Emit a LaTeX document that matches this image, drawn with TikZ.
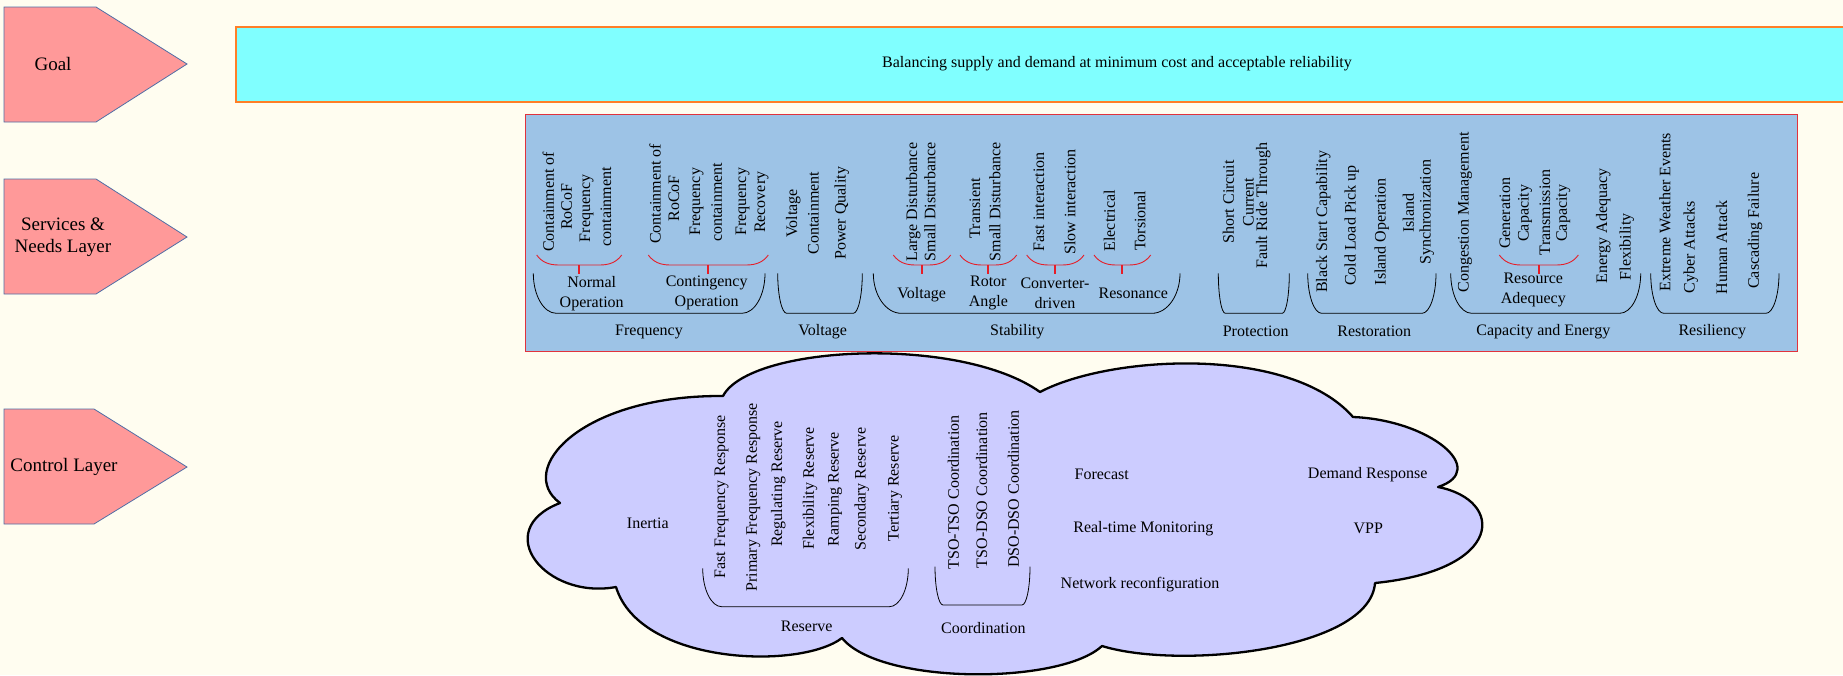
\documentclass[tikz,border=0pt]{standalone}
\usepackage{fontspec}
\setmainfont{Liberation Serif}
\definecolor{bgcream}{RGB}{255,253,240}
\definecolor{layerpink}{RGB}{255,153,153}
\definecolor{layerline}{RGB}{80,110,165}
\definecolor{goalcyan}{RGB}{128,255,255}
\definecolor{goalline}{RGB}{255,127,39}
\definecolor{servfill}{RGB}{157,195,230}
\definecolor{servline}{RGB}{225,50,60}
\definecolor{bracered}{RGB}{230,30,40}
\definecolor{cloudfill}{RGB}{204,204,255}
\tikzset{
  lbl/.style={font=\fontsize{16}{20}\selectfont, inner sep=0pt, align=center},
  vt/.style={lbl, rotate=90},
  layer/.style={draw=layerline, fill=layerpink, line width=0.8pt},
  layertxt/.style={font=\fontsize{19}{22.5}\selectfont, inner sep=0pt, align=center},
  brk/.style={draw=black, line width=0.8pt},
  rbr/.style={draw=bracered, line width=0.9pt},
  rtick/.style={draw=bracered, line width=1.8pt},
}
% bracket: left, right, top, bottom, horizontal curve width
\newcommand{\SvBracket}[5]{\draw[brk] (#1,#3) .. controls (#1,{#3+0.55*(#4-#3)}) and ({#1+0.45*#5},#4) .. ({#1+#5},#4) -- ({#2-#5},#4) .. controls ({#2-0.45*#5},#4) and (#2,{#3+0.55*(#4-#3)}) .. (#2,#3);}
\newcommand{\SvBrace}[2]{\draw[rbr] (#1,255) .. controls ({#1+5},262) and ({#1+12},265) .. ({#1+22},265) -- ({#2-22},265) .. controls ({#2-12},265) and ({#2-5},262) .. (#2,255);
  \draw[rtick] ({(#1+#2)/2},265) -- ({(#1+#2)/2},274);}
\begin{document}
\begin{tikzpicture}[x=1pt,y=-1pt]
\path[use as bounding box, fill=bgcream] (0,0) rectangle (1843,675);
\begin{scope}
\clip (0,0) rectangle (1843,675);
% layer arrows
\draw[layer] (4,7) -- (96,7) -- (187,64) -- (96,122) -- (4,122) -- cycle;
\node[layertxt] (goal) at (53,64) {Goal};
\draw[layer] (4,179) -- (96,179) -- (187,237) -- (96,294) -- (4,294) -- cycle;
\node[layertxt] (serv) at (63,237) {Services \&\\Needs Layer};
\draw[layer] (4,409) -- (94,409) -- (187,467) -- (94,524) -- (4,524) -- cycle;
\node[layertxt] (ctrl) at (64,467) {Control Layer};
% goal box
\draw[draw=goalline, fill=goalcyan, line width=1.4pt] (236,27) rectangle (1998,102);
\node[lbl] (goaltxt) at (1117,64) {Balancing supply and demand at minimum cost and acceptable reliability};
% services box
\draw[draw=servline, fill=servfill, line width=1pt] (525,114) rectangle (1797,351);
% Frequency
\node[vt] (n1a) at (548.3,201.7) {Containment of};
\node[vt] (n1b) at (566.7,206.7) {RoCoF};
\node[vt] (n1c) at (586.7,208.3) {Frequency};
\node[vt] (n1d) at (606,206.7) {containment};
\node[vt] (c1a) at (655,194) {Containment of};
\node[vt] (c1b) at (674,198.3) {RoCoF};
\node[vt] (c1c) at (696.7,201.7) {Frequency};
\node[vt] (c1d) at (716.7,202.3) {containment};
\node[vt] (c1e) at (742.7,201.7) {Frequency};
\node[vt] (c1f) at (761.7,202.3) {Recovery};
\SvBrace{536.7}{621.7}
\SvBrace{648.3}{768.3}
\node[lbl] (normop) at (591.7,293.3) {Normal\\Operation};
\node[lbl] (contop) at (706.7,293.3) {Contingency\\Operation};
\SvBracket{533.3}{765}{273.3}{313.3}{23}
\node[lbl] (freq) at (649,331.7) {Frequency};
% Voltage
\node[vt] (v1) at (793.3,213.3) {Voltage};
\node[vt] (v2) at (813.3,213.3) {Containment};
\node[vt] (v3) at (841.7,213.3) {Power Quality};
\SvBracket{777.7}{862.3}{273.3}{313.3}{9}
\node[lbl] (volt) at (822.7,331.7) {Voltage};
% Stability
\node[vt] (s1a) at (913.3,202) {Large Disturbance};
\node[vt] (s1b) at (930,202) {Small Disturbance};
\SvBrace{893.3}{950.7}
\node[lbl] (svolt) at (921.7,295) {Voltage};
\node[vt] (s2a) at (975,208.3) {Transient};
\node[vt] (s2b) at (995,202) {Small Disturbance};
\SvBrace{960}{1016.7}
\node[lbl] (srotor) at (988.3,293.3) {Rotor\\Angle};
\node[vt] (s3a) at (1039,201.7) {Fast interaction};
\node[vt] (s3b) at (1070,202) {Slow interaction};
\SvBrace{1026.7}{1084}
\node[lbl] (sconv) at (1055,293.3) {Converter-\\driven};
\node[vt] (s4a) at (1109.3,220.7) {Electrical};
\node[vt] (s4b) at (1140,220.7) {Torsional};
\SvBrace{1094}{1150.7}
\node[lbl] (sres) at (1133.3,293.3) {Resonance};
\SvBracket{873.3}{1180}{273.3}{313.3}{28}
\node[lbl] (stab) at (1017.3,331.7) {Stability};
% Protection
\node[vt] (p1) at (1228.3,201.7) {Short Circuit};
\node[vt] (p2) at (1248.3,202) {Current};
\node[vt] (p3) at (1263.3,205.7) {Fault Ride Through};
\SvBracket{1218.3}{1289.3}{273.3}{313.3}{7}
\node[lbl] (prot) at (1255.7,331.7) {Protection};
% Restoration
\node[vt] (r1) at (1323.3,221.7) {Black Start Capability};
\node[vt] (r2) at (1351.7,225.7) {Cold Load Pick up};
\node[vt] (r3) at (1381.7,231.7) {Island Operation};
\node[vt] (r4) at (1408.3,213.3) {Island};
\node[vt] (r5) at (1426.7,212.3) {Synchronization};
\SvBracket{1307.7}{1436}{273.3}{313.3}{14}
\node[lbl] (rest) at (1374.3,331.7) {Restoration};
% Capacity and Energy
\node[vt] (e1) at (1465,212.3) {Congestion Management};
\node[vt] (e2) at (1505,213.3) {Generation};
\node[vt] (e3) at (1525,213.3) {Capacity};
\node[vt] (e4) at (1545,212.3) {Transmission};
\node[vt] (e5) at (1563.3,213.3) {Capacity};
\SvBrace{1499.3}{1578.3}
\node[lbl] (resad) at (1533.3,290.3) {Resource\\Adequecy};
\node[vt] (e6) at (1603.3,225.7) {Energy Adequacy};
\node[vt] (e7) at (1626.7,246.7) {Flexibility};
\SvBracket{1450.7}{1640.7}{273.3}{313.3}{21}
\node[lbl] (capen) at (1543.3,331.7) {Capacity and Energy};
% Resiliency
\node[vt] (x1) at (1665,212.3) {Extreme Weather Events};
\node[vt] (x2) at (1690.7,247.3) {Cyber Attacks};
\node[vt] (x3) at (1721.7,247.3) {Human Attack};
\node[vt] (x4) at (1755,230.7) {Cascading Failure};
\SvBracket{1650.7}{1779}{273.3}{313.3}{13}
\node[lbl] (resil) at (1712.3,331.7) {Resiliency};
% cloud
\draw[fill=cloudfill, draw=black, line width=2.3pt, line join=round]
  (560,503) .. controls (515,470) and (580,395) .. (723,396)
  .. controls (750,345) and (960,335) .. (1040,392)
  .. controls (1110,355) and (1290,345) .. (1353,417)
  .. controls (1430,420) and (1490,470) .. (1438,487)
  .. controls (1505,500) and (1505,570) .. (1375,583)
  .. controls (1370,650) and (1180,670) .. (1102,646)
  .. controls (1060,685) and (880,685) .. (842,638)
  .. controls (800,670) and (640,665) .. (616,587)
  .. controls (545,600) and (490,530) .. (560,503) -- cycle;
\node[lbl] (inertia) at (647.8,523.3) {Inertia};
\node[vt] (q1) at (721.7,496.7) {Fast Frequency Response};
\node[vt] (q2) at (753.3,497.3) {Primary Frequency Response};
\node[vt] (q3) at (778.3,484) {Regulating Reserve};
\node[vt] (q4) at (810,488.3) {Flexibility Reserve};
\node[vt] (q5) at (835,489) {Ramping Reserve};
\node[vt] (q6) at (861.7,489) {Secondary Reserve};
\node[vt] (q7) at (895,488.3) {Tertiary Reserve};
\SvBracket{702.7}{908.3}{568.3}{606.7}{19}
\node[lbl] (reserve) at (806.7,626.7) {Reserve};
\node[vt] (k1) at (953.3,492.3) {TSO-TSO Coordination};
\node[vt] (k2) at (981.7,490) {TSO-DSO Coordination};
\node[vt] (k3) at (1013.3,489) {DSO-DSO Coordination};
\SvBracket{935}{1030}{566.7}{605}{8}
\node[lbl] (coord) at (983.3,627.7) {Coordination};
\node[lbl] (fore) at (1101.7,474) {Forecast};
\node[lbl] (rtm) at (1143.3,528.3) {Real-time Monitoring};
\node[lbl] (netr) at (1140,585) {Network reconfiguration};
\node[lbl] (dr) at (1367.7,475) {Demand Response};
\node[lbl] (vpp) at (1368.3,528.3) {VPP};
\end{scope}
\end{tikzpicture}
\end{document}
